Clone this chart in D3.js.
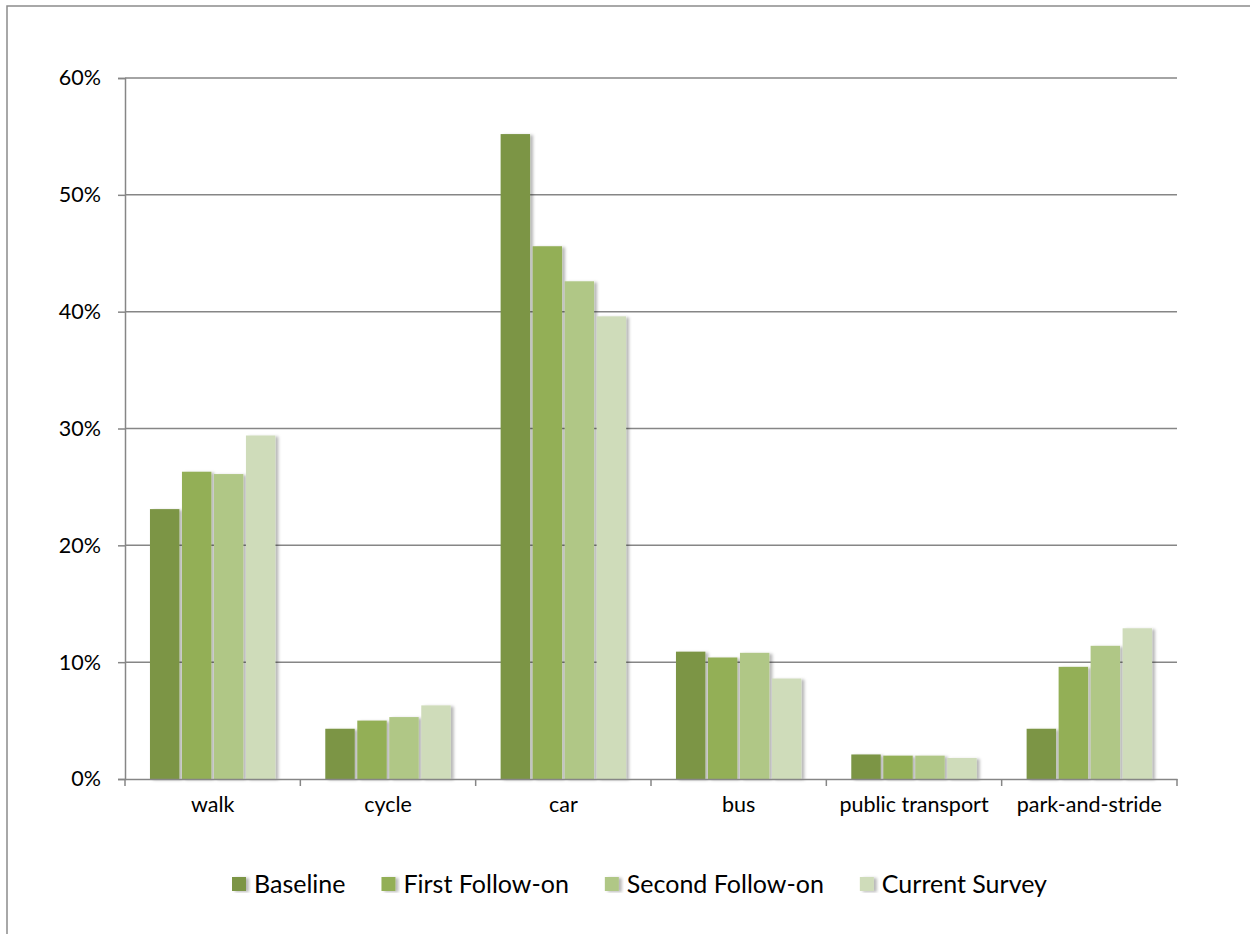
<!DOCTYPE html>
<html>
<head>
<meta charset="UTF-8" />
<script src="https://d3js.org/d3.v7.min.js"></script>
<title>Travel mode</title>
<style>
  body { margin: 0; background: #fff; }
  svg text { font-family: Lato, "Open Sans", sans-serif; fill: #000; }
</style>
</head>
<body>
<div id="chart"></div>
<script>
// categories and series
var modes = ["walk", "cycle", "car", "bus", "public transport", "park-and-stride"];
var surveys = ["Baseline", "First Follow-on", "Second Follow-on", "Current Survey"];

// values in percent, one list per survey (same order as modes)
var baseline = [23.1, 4.3, 55.2, 10.9, 2.1, 4.3];
var firstFollowOn = [26.3, 5.0, 45.6, 10.4, 2.0, 9.6];
var secondFollowOn = [26.1, 5.3, 42.6, 10.8, 2.0, 11.4];
var currentSurvey = [29.4, 6.3, 39.6, 8.6, 1.8, 12.9];

var yTicks = [0, 0.1, 0.2, 0.3, 0.4, 0.5, 0.6];
var colors = ["#7b9545", "#93af57", "#b0c786", "#cfdcba"];

var seriesValues = [baseline, firstFollowOn, secondFollowOn, currentSurvey];

var W = 1250, H = 934;
var margin = { top: 78, right: 73, bottom: 155, left: 125 },
    width = W - margin.left - margin.right,
    height = H - margin.top - margin.bottom;

var svgRoot = d3.select("#chart").append("svg")
  .attr("width", W)
  .attr("height", H);

// soft shadow for bars
var defs = svgRoot.append("defs");
var f = defs.append("filter").attr("id", "shadow")
  .attr("x", "-30%").attr("y", "-10%").attr("width", "160%").attr("height", "120%");
f.append("feDropShadow")
  .attr("dx", 3).attr("dy", 1).attr("stdDeviation", 1.6)
  .attr("flood-color", "#000").attr("flood-opacity", 0.28);

// outer frame (open on right and bottom)
svgRoot.append("rect")
  .attr("x", 7).attr("y", 6)
  .attr("width", 1300).attr("height", 1000)
  .attr("fill", "none")
  .attr("stroke", "#8c8c8c")
  .attr("stroke-width", 1.5);

var svg = svgRoot.append("g")
  .attr("transform", "translate(" + margin.left + "," + margin.top + ")");

var x0 = d3.scaleBand().domain(modes).range([0, width]).padding(0);
var x1 = d3.scaleBand().domain(surveys)
  .range([0, x0.bandwidth()])
  .paddingInner(0.08)
  .paddingOuter(0.78);
var y = d3.scaleLinear().domain([0, 0.6]).range([height, 0]);

// gridlines
svg.append("g")
  .selectAll("line")
  .data(yTicks.slice(1))
  .enter().append("line")
  .attr("x1", 0).attr("x2", width)
  .attr("y1", function(d) { return y(d); })
  .attr("y2", function(d) { return y(d); })
  .attr("stroke", "#868686")
  .attr("stroke-width", 1.5);

// y axis
var yAxis = svg.append("g")
  .call(d3.axisLeft(y).tickValues(yTicks).tickFormat(d3.format(".0%")).tickSize(7).tickPadding(17));
yAxis.select(".domain").attr("stroke", "#868686").attr("stroke-width", 1.5);
yAxis.selectAll(".tick line").attr("stroke", "#868686").attr("stroke-width", 1.5);
yAxis.selectAll("text").style("font-size", "21.5px");

// bars
var groups = svg.append("g")
  .selectAll("g")
  .data(modes)
  .enter().append("g")
  .attr("transform", function(d) { return "translate(" + x0(d) + ",0)"; });

groups.selectAll("rect")
  .data(function(d, i) {
    return surveys.map(function(s, j) { return { survey: s, value: seriesValues[j][i] / 100, idx: j }; });
  })
  .enter().append("rect")
  .attr("x", function(d) { return x1(d.survey); })
  .attr("y", function(d) { return y(d.value); })
  .attr("width", x1.bandwidth())
  .attr("height", function(d) { return height - y(d.value); })
  .attr("fill", function(d) { return colors[d.idx]; })
  .attr("filter", "url(#shadow)");

// x axis
var xAxis = svg.append("g")
  .attr("transform", "translate(0," + height + ")")
  .call(d3.axisBottom(x0).tickSize(0).tickPadding(18));
xAxis.select(".domain").attr("stroke", "#868686").attr("stroke-width", 1.5);
xAxis.selectAll("text").style("font-size", "21.5px");

// category boundary ticks
svg.append("g")
  .selectAll("line")
  .data(modes.map(function(m) { return x0(m); }).concat([width]))
  .enter().append("line")
  .attr("x1", function(d) { return d; }).attr("x2", function(d) { return d; })
  .attr("y1", height).attr("y2", height + 7)
  .attr("stroke", "#868686")
  .attr("stroke-width", 1.5);

// legend
var legend = svgRoot.append("g").attr("transform", "translate(232,877)");
var lx = 0;
surveys.forEach(function(s, i) {
  var item = legend.append("g").attr("transform", "translate(" + lx + ",0)");
  item.append("rect")
    .attr("x", 0).attr("y", 0)
    .attr("width", 14).attr("height", 14)
    .attr("fill", colors[i])
    .attr("filter", "url(#shadow)");
  var t = item.append("text")
    .attr("x", 22).attr("y", 7)
    .attr("dy", "0.35em")
    .style("font-size", "25px")
    .text(s);
  lx += 22 + t.node().getComputedTextLength() + 36;
});
</script>
</body>
</html>
